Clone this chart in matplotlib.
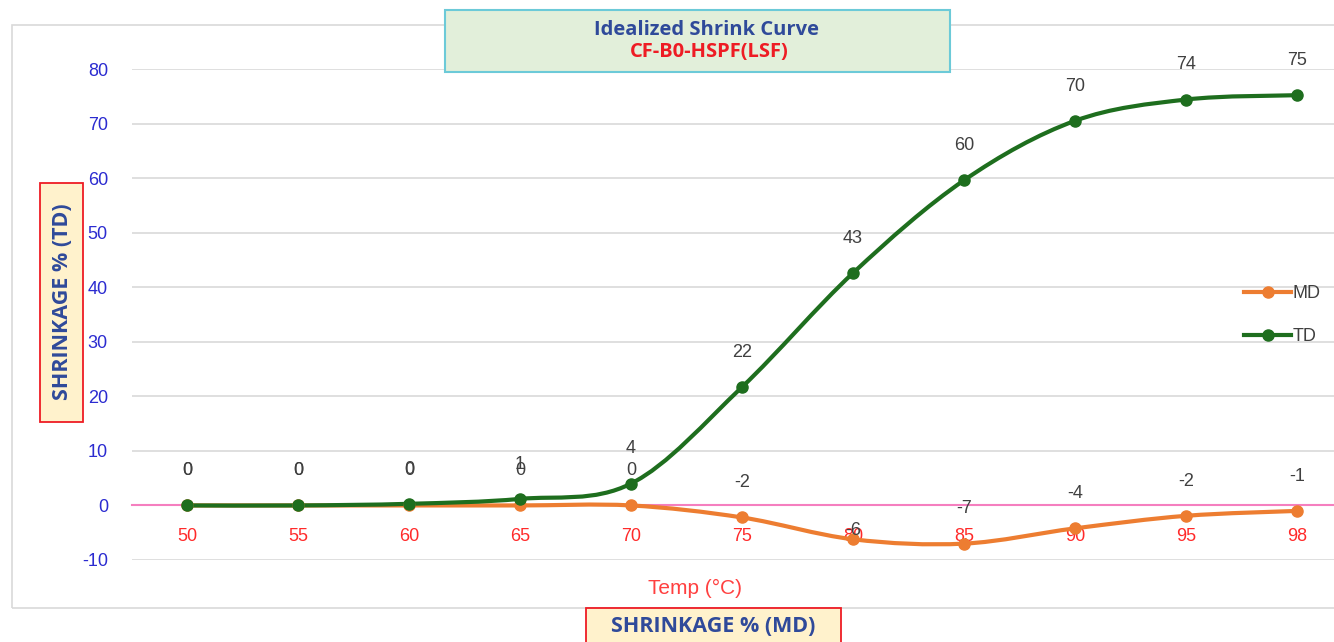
import matplotlib
matplotlib.use("Agg")
import matplotlib.pyplot as plt
from matplotlib.path import Path
from matplotlib.patches import PathPatch, Rectangle
from matplotlib.lines import Line2D
import numpy as np

# ---- data ----
temps = ["50", "55", "60", "65", "70", "75", "80", "85", "90", "95", "98"]
md_values = [0, 0, 0, 0, 0, -2.2, -6.2, -7.0, -4.2, -1.9, -1.0]
td_values = [0, 0, 0.3, 1.2, 4.0, 21.7, 42.6, 59.6, 70.5, 74.4, 75.2]
md_labels = ["0", "0", "0", "0", "0", "-2", "-6", "-7", "-4", "-2", "-1"]
td_labels = ["0", "0", "0", "1", "4", "22", "43", "60", "70", "74", "75"]
series_names = ["MD", "TD"]
yticks = [-10, 0, 10, 20, 30, 40, 50, 60, 70, 80]

W, H = 1334, 642
plt.rcParams['font.family'] = ['Liberation Sans', 'DejaVu Sans']
plt.rcParams['axes.unicode_minus'] = False
fig = plt.figure(figsize=(W / 100, H / 100), dpi=100)

BOLDFAM = ['Open Sans', 'DejaVu Sans']

def fx(px):
    return px / W

def fy(py):
    return 1 - py / H

# outer chart border
fig.patches.append(Rectangle((fx(12), fy(608)), fx(1400 - 12), fy(25) - fy(608),
                             transform=fig.transFigure, facecolor='none',
                             edgecolor='#D9D9D9', linewidth=1.2, zorder=-1))

x = np.arange(len(temps))
left_px = 187 - 0.5 * 111
right_px = W
xmax = (right_px - 187) / 111
ax = fig.add_axes([fx(left_px), fy(560), fx(right_px - left_px), fy(69) - fy(560)])
ax.set_xlim(-0.5, xmax)
ax.set_ylim(-10, 80)
ax.patch.set_alpha(0)

ax.set_yticks(yticks)
ax.grid(axis='y', color='#D9D9D9', linewidth=1.2)
ax.set_axisbelow(True)
for s in ['left', 'right', 'top']:
    ax.spines[s].set_visible(False)
ax.spines['bottom'].set_position(('data', 0))
ax.spines['bottom'].set_color('#F57FBF')
ax.spines['bottom'].set_linewidth(1.5)
ax.set_xticks(x)
ax.set_xticklabels(temps)
ax.tick_params(axis='x', length=0, pad=16, colors='#FF2A2A', labelsize=13)
ax.tick_params(axis='y', length=0, pad=17, colors='#2B2BD0', labelsize=13)


def smooth_path(xs, ys):
    pts = np.column_stack([xs, ys]).astype(float)
    n = len(pts)
    verts = [pts[0]]
    codes = [Path.MOVETO]
    for i in range(n - 1):
        p0 = pts[i - 1] if i > 0 else pts[i]
        p1 = pts[i]
        p2 = pts[i + 1]
        p3 = pts[i + 2] if i + 2 < n else pts[i + 1]
        c1 = p1 + (p2 - p0) / 6.0
        c2 = p2 - (p3 - p1) / 6.0
        verts += [c1, c2, p2]
        codes += [Path.CURVE4] * 3
    return Path(verts, codes)

colors = {"MD": "#ED7D31", "TD": "#1E6E1E"}
data = {"MD": md_values, "TD": td_values}
labels = {"MD": md_labels, "TD": td_labels}

for name in series_names:
    c = colors[name]
    patch = PathPatch(smooth_path(x, data[name]), facecolor='none', edgecolor=c,
                      linewidth=3, capstyle='round', joinstyle='round', zorder=3)
    ax.add_patch(patch)
    ax.plot(x, data[name], linestyle='none', marker='o', markersize=8, color=c, zorder=4)

# data labels
for name in series_names:
    for xv, yv, lab in zip(x, data[name], labels[name]):
        off = 25
        if name == "MD" and lab == "-6":
            off = 6
        ax.annotate(lab, (xv, yv), xytext=(0, off), textcoords='offset points',
                    ha='center', va='center', fontsize=13, color='#404040', zorder=5)

# legend
handles = [Line2D([0], [0], color=colors[n], linewidth=3, marker='o', markersize=8) for n in series_names]
fig.legend(handles, series_names, loc='center left',
           bbox_to_anchor=(fx(1228), fy(315)), frameon=False, fontsize=13,
           handlelength=2.6, handletextpad=0.1, labelspacing=1.45, labelcolor='#404040')

# axis title Temp
fig.text(fx(695), fy(588), "Temp (°C)", ha='center', va='center', fontsize=15, color='#FF4040')

# title box
fig.patches.append(Rectangle((fx(445), fy(72)), fx(950 - 445), fy(10) - fy(72),
                             transform=fig.transFigure, facecolor='#E2EFDA',
                             edgecolor='#6CCAD8', linewidth=1.5, zorder=5))
fig.text(fx(706), fy(30), "Idealized Shrink Curve", ha='center', va='center',
         fontsize=14.5, fontweight='bold', color='#2F4A9A', family=BOLDFAM, zorder=6)
fig.text(fx(709), fy(52), "CF-B0-HSPF(LSF)", ha='center', va='center',
         fontsize=14.5, fontweight='bold', color='#EE1C24', family=BOLDFAM, zorder=6)

# y label box
fig.patches.append(Rectangle((fx(40), fy(422)), fx(83 - 40), fy(183) - fy(422),
                             transform=fig.transFigure, facecolor='#FFF2CC',
                             edgecolor='#EE1C24', linewidth=1.3, zorder=5))
fig.text(fx(62), fy(302), "SHRINKAGE % (TD)", ha='center', va='center', rotation=90,
         fontsize=15.5, fontweight='bold', color='#2F4A9A', family=BOLDFAM, zorder=6)

# x label box
fig.patches.append(Rectangle((fx(586), fy(660)), fx(841 - 586), fy(608) - fy(660),
                             transform=fig.transFigure, facecolor='#FFF2CC',
                             edgecolor='#EE1C24', linewidth=1.3, zorder=5))
fig.text(fx(713), fy(627), "SHRINKAGE % (MD)", ha='center', va='center',
         fontsize=15.5, fontweight='bold', color='#2F4A9A', family=BOLDFAM, zorder=6)

fig.savefig("out.png", dpi=100)
